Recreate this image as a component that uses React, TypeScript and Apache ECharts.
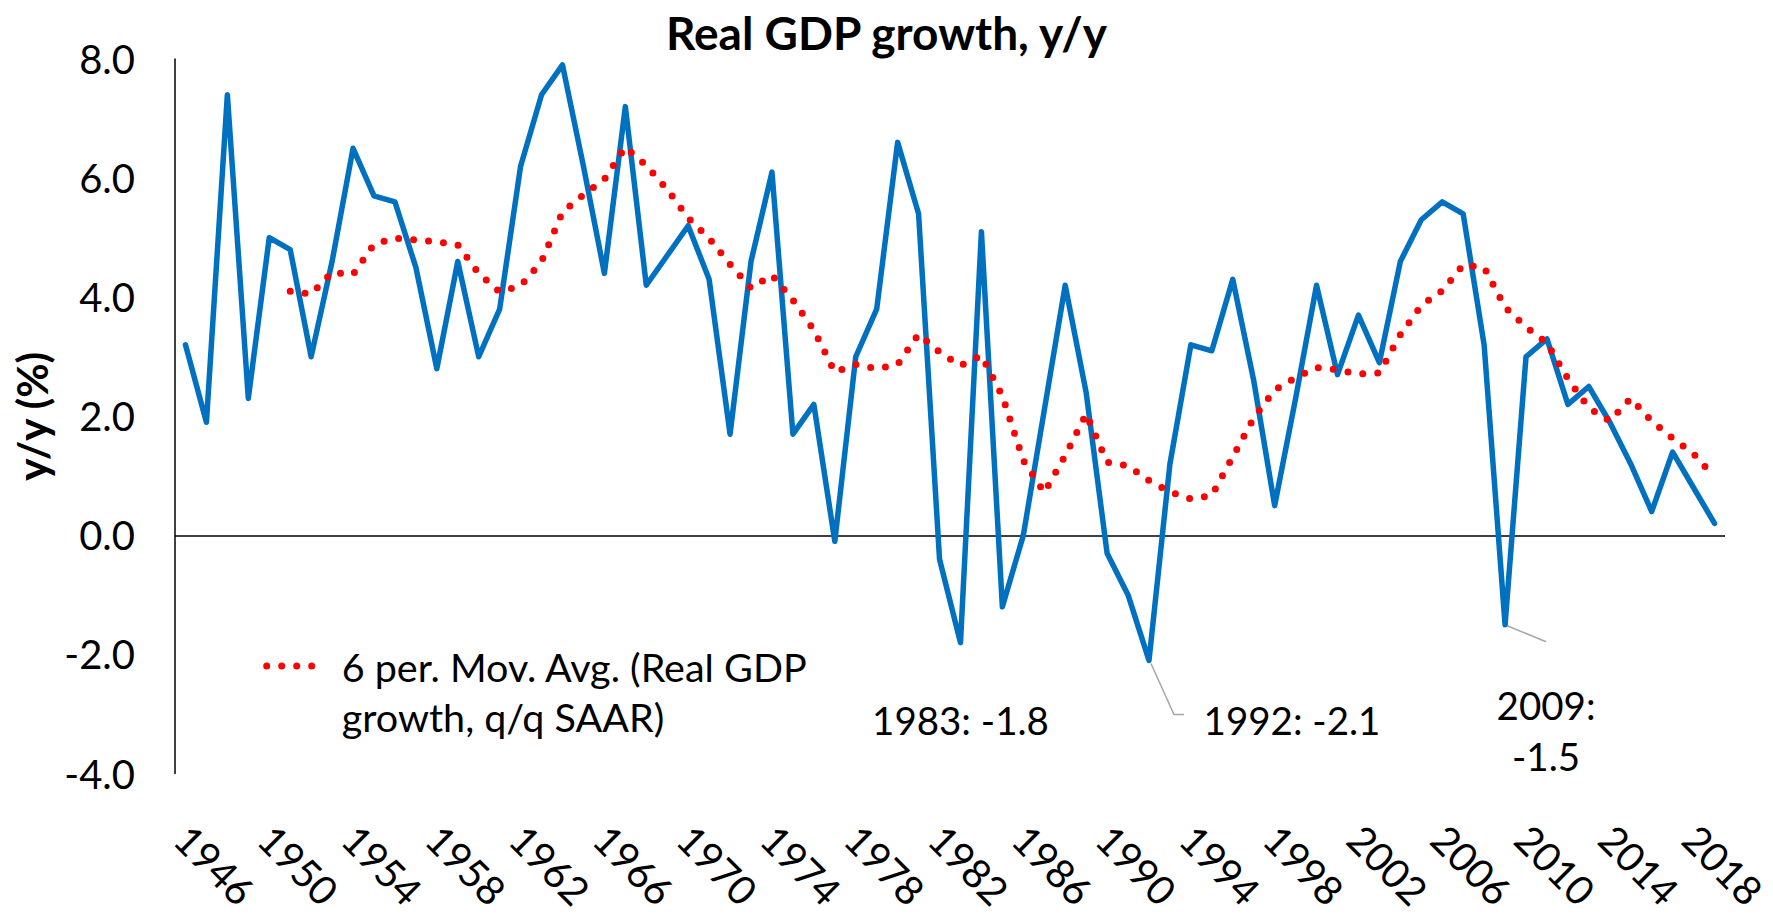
import React, { useEffect, useRef } from 'react';
import * as echarts from 'echarts';

const years = [
  '1946', '1947', '1948', '1949', '1950', '1951', '1952', '1953', '1954', '1955',
  '1956', '1957', '1958', '1959', '1960', '1961', '1962', '1963', '1964', '1965',
  '1966', '1967', '1968', '1969', '1970', '1971', '1972', '1973', '1974', '1975',
  '1976', '1977', '1978', '1979', '1980', '1981', '1982', '1983', '1984', '1985',
  '1986', '1987', '1988', '1989', '1990', '1991', '1992', '1993', '1994', '1995',
  '1996', '1997', '1998', '1999', '2000', '2001', '2002', '2003', '2004', '2005',
  '2006', '2007', '2008', '2009', '2010', '2011', '2012', '2013', '2014', '2015',
  '2016', '2017', '2018', '2019',
];

const gdpGrowth = [
  3.2, 1.9, 7.4, 2.3, 5.0, 4.8, 3.0, 4.6, 6.5, 5.7,
  5.6, 4.5, 2.8, 4.6, 3.0, 3.8, 6.2, 7.4, 7.9, 6.2,
  4.4, 7.2, 4.2, 4.7, 5.2, 4.3, 1.7, 4.6, 6.1, 1.7,
  2.2, -0.1, 3.0, 3.8, 6.6, 5.4, -0.4, -1.8, 5.1, -1.2,
  0.0, 2.1, 4.2, 2.4, -0.3, -1.0, -2.1, 1.2, 3.2, 3.1,
  4.3, 2.6, 0.5, 2.3, 4.2, 2.7, 3.7, 2.9, 4.6, 5.3,
  5.6, 5.4, 3.2, -1.5, 3.0, 3.3, 2.2, 2.5, 1.9, 1.2,
  0.4, 1.4, 0.8, 0.2,
];

const movAvg = [
  null, null, null, null, null, 4.1, 4.05, 4.42, 4.38, 4.89,
  4.99, 4.96, 4.93, 4.88, 4.4, 4.09, 4.19, 4.6, 5.43, 5.72,
  5.98, 6.52, 6.21, 5.81, 5.33, 4.99, 4.55, 4.15, 4.37, 3.95,
  3.45, 2.74, 2.87, 2.8, 2.87, 3.38, 3.08, 2.85, 3.02, 2.34,
  1.26, 0.72, 1.34, 2.04, 1.23, 1.17, 0.92, 0.73, 0.61, 0.67,
  1.32, 1.97, 2.44, 2.65, 2.82, 2.78, 2.71, 2.73, 3.37, 3.86,
  4.11, 4.54, 4.5, 3.83, 3.5, 3.23, 2.63, 2.14, 1.92, 2.3,
  1.92, 1.63, 1.37, 0.98,
];

const annotationYears = ['1983', '1992', '2009'];
const annotationValues = [-1.8, -2.1, -1.5];
const annotationTexts = ['1983: -1.8', '1992: -2.1', '2009:\n-1.5'];

const yMin = -4;
const yMax = 8;
const yInterval = 2;

const TITLE = 'Real GDP growth, y/y';
const SERIES_NAME = 'Real GDP growth, y/y';
const MA_NAME = '6 per. Mov. Avg. (Real GDP growth, q/q SAAR)';
const MA_LEGEND_TEXT = '6 per. Mov. Avg. (Real GDP\ngrowth, q/q SAAR)';

const FONT = 'Lato, "Open Sans", sans-serif';

export default function App() {
  const ref = useRef<HTMLDivElement>(null);

  useEffect(() => {
    if (!ref.current) return;
    const chart = echarts.init(ref.current, null, { renderer: 'svg' });
    const labelOffsets = [
      [0, 77],
      [143, 60],
      [41, 106],
    ];
    chart.setOption({
      animation: false,
      backgroundColor: '#ffffff',
      title: {
        text: TITLE,
        left: 'center',
        top: 9,
        padding: 0,
        textStyle: { fontFamily: FONT, fontSize: 46, fontWeight: 'bold', color: '#000' },
      },
      grid: { left: 175, top: 59, width: 1550, height: 732, containLabel: false },
      xAxis: {
        type: 'category',
        data: years,
        boundaryGap: true,
        axisLine: { show: false, onZero: false },
        axisTick: { show: false },
        splitLine: { show: false },
        axisLabel: {
          interval: 3,
          rotate: -45,
          margin: 55,
          align: 'left',
          verticalAlign: 'top',
          padding: [-15, 0, 0, 0],
          fontFamily: FONT,
          fontSize: 40,
          color: '#000',
        },
      },
      yAxis: {
        type: 'value',
        min: yMin,
        max: yMax,
        interval: yInterval,
        name: 'y/y (%)',
        nameLocation: 'middle',
        nameRotate: 90,
        nameGap: 113,
        nameTextStyle: { fontFamily: FONT, fontSize: 42, fontWeight: 'bold', color: '#000' },
        axisLine: { show: true, lineStyle: { color: '#000', width: 1.5 } },
        axisTick: { show: false },
        splitLine: { show: false },
        axisLabel: {
          margin: 40,
          fontFamily: FONT,
          fontSize: 40,
          color: '#000',
          formatter: (v: number) => v.toFixed(1),
        },
      },
      series: [
        {
          name: SERIES_NAME,
          type: 'line',
          data: gdpGrowth,
          symbol: 'none',
          z: 3,
          lineStyle: { color: '#0070C0', width: 5.5, cap: 'round', join: 'round' },
          itemStyle: { color: '#0070C0' },
          markLine: {
            silent: true,
            symbol: ['none', 'none'],
            label: { show: false },
            lineStyle: { color: '#000', width: 1.5, type: 'solid' },
            data: [{ yAxis: 0 }],
            z: 2,
          },
          markPoint: {
            silent: true,
            symbol: 'circle',
            symbolSize: 1,
            itemStyle: { color: 'rgba(0,0,0,0)' },
            label: {
              show: true,
              position: 'inside',
              color: '#000',
              fontFamily: FONT,
              fontSize: 38.5,
              lineHeight: 51,
              align: 'center',
            },
            data: annotationYears.map((y, i) => ({
              coord: [y, annotationValues[i]],
              label: { formatter: annotationTexts[i], offset: labelOffsets[i] },
            })),
          },
        },
        {
          name: MA_NAME,
          type: 'line',
          data: movAvg,
          symbol: 'none',
          z: 4,
          lineStyle: { color: '#FF0000', width: 7, type: [0, 15], cap: 'round', join: 'round' },
          itemStyle: { color: '#FF0000' },
        },
      ],
    });

    const p92 = chart.convertToPixel({ xAxisIndex: 0, yAxisIndex: 0 }, ['1992', -2.1]) as number[];
    const p09 = chart.convertToPixel({ xAxisIndex: 0, yAxisIndex: 0 }, ['2009', -1.5]) as number[];
    const leaderStyle = { stroke: '#A6A6A6', lineWidth: 1.5, fill: 'none' };
    chart.setOption({
      graphic: [
        {
          type: 'polyline',
          silent: true,
          z: 1,
          shape: {
            points: [
              [p92[0] + 2, p92[1] + 3],
              [p92[0] + 25, p92[1] + 54],
              [p92[0] + 35, p92[1] + 54],
            ],
          },
          style: leaderStyle,
        },
        {
          type: 'polyline',
          silent: true,
          z: 1,
          shape: {
            points: [
              [p09[0] + 2, p09[1] + 1],
              [p09[0] + 41, p09[1] + 17],
            ],
          },
          style: leaderStyle,
        },
        {
          type: 'group',
          id: 'legend',
          silent: true,
          z: 10,
          children: [
            {
              type: 'line',
              shape: { x1: 266.7, y1: 666, x2: 326.7, y2: 666 },
              style: {
                stroke: '#FF0000',
                lineWidth: 7,
                lineDash: [0, 15],
                lineCap: 'round',
              },
            },
            {
              type: 'text',
              x: 341.7,
              y: 641,
              style: {
                text: MA_LEGEND_TEXT,
                fontFamily: FONT,
                fontSize: 39.5,
                lineHeight: 50,
                fill: '#000',
                align: 'left',
                verticalAlign: 'top',
              },
            },
          ],
        },
      ],
    });

    return () => chart.dispose();
  }, []);

  return (
    <div
      ref={ref}
      style={{ position: 'fixed', left: 0, top: 0, width: 1773, height: 914, background: '#fff' }}
    />
  );
}
